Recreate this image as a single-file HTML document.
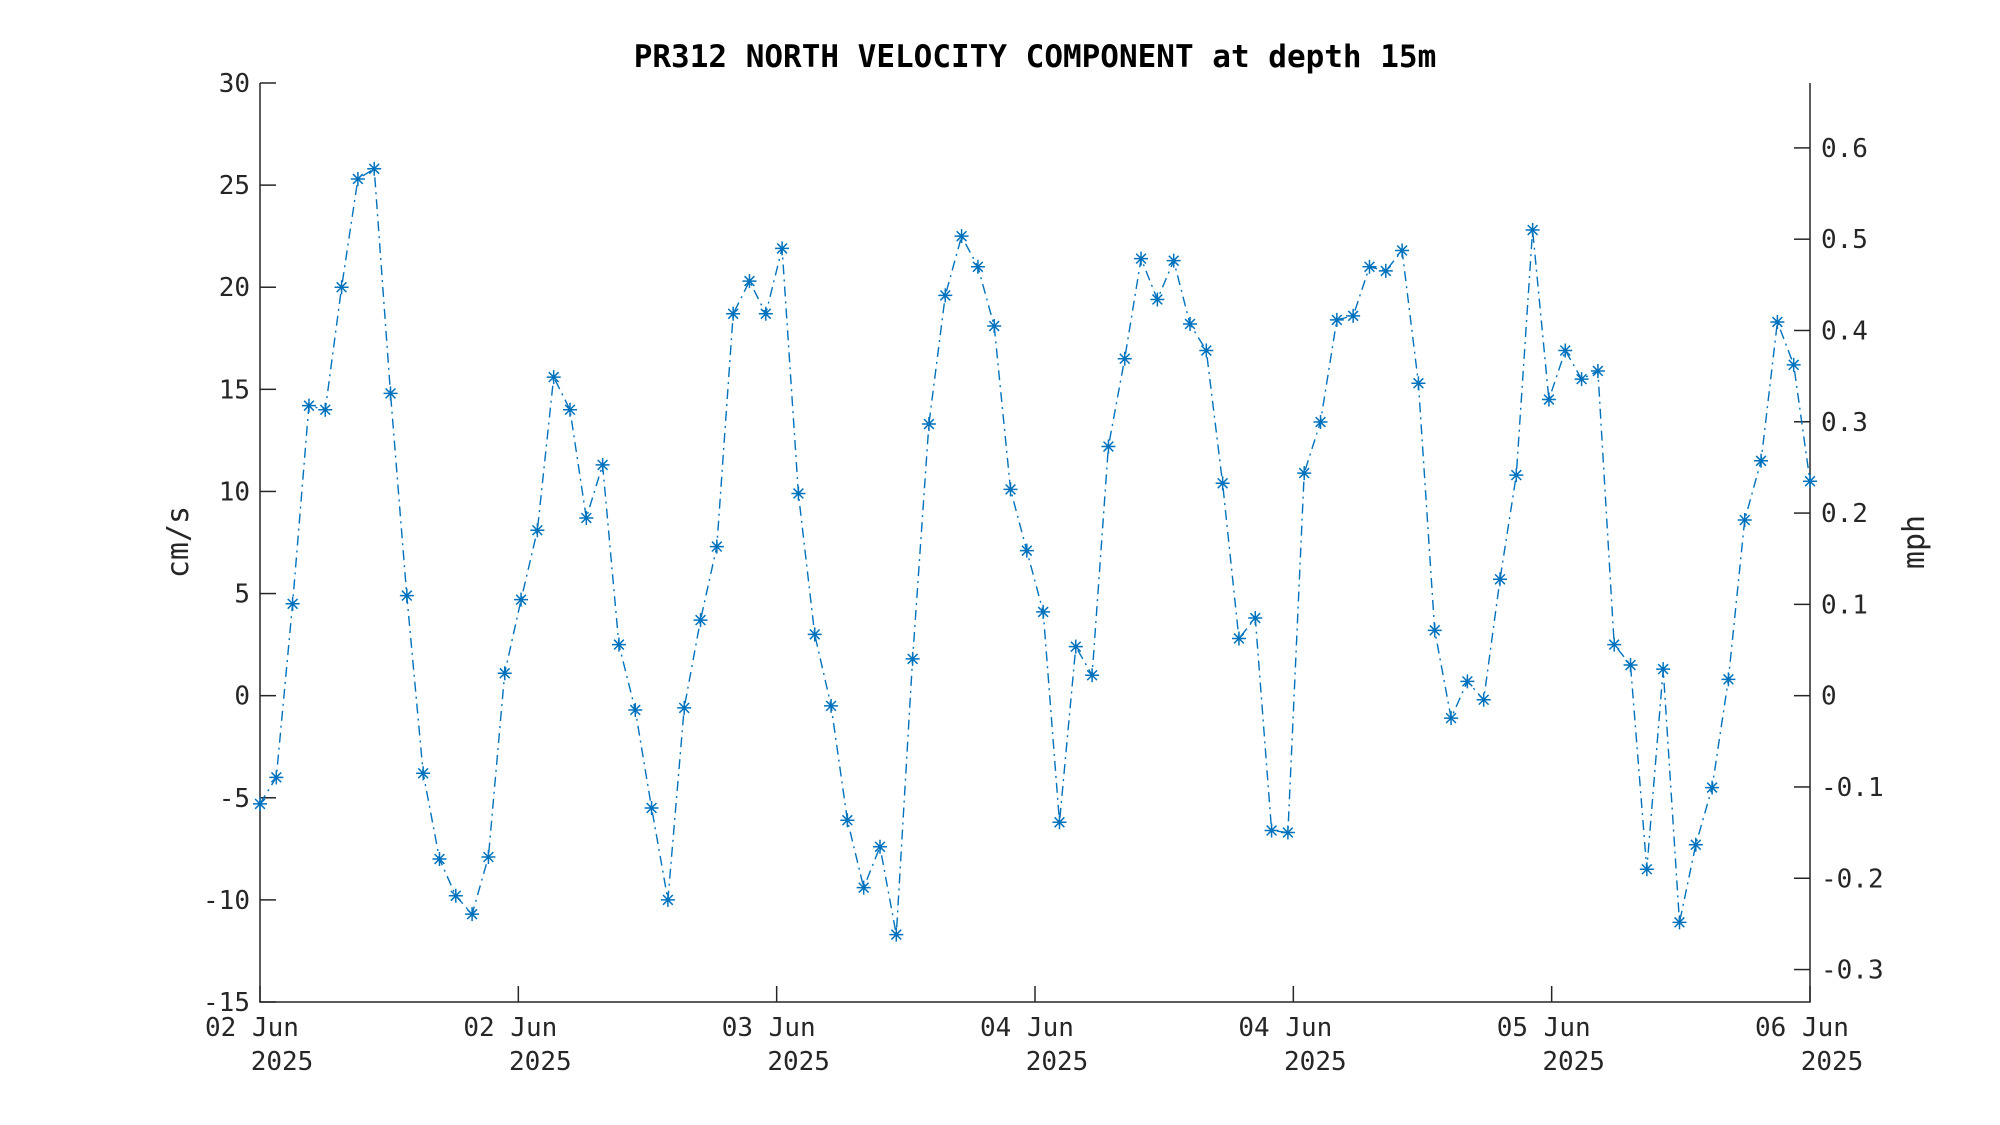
<!DOCTYPE html>
<html><head><meta charset="utf-8"><style>
html,body{margin:0;padding:0;background:#fff;}
svg{display:block;font-family:"DejaVu Sans Mono","Liberation Mono",monospace;}
</style></head><body>
<svg id="chart" width="2000" height="1125" viewBox="0 0 2000 1125" xmlns="http://www.w3.org/2000/svg">
<text x="1035" y="67" text-anchor="middle" font-size="31" font-weight="bold" fill="#000">PR312 NORTH VELOCITY COMPONENT at depth 15m</text>
<text transform="translate(188,542) rotate(-90)" text-anchor="middle" font-size="30" fill="#262626">cm/s</text>
<text transform="translate(1924,542) rotate(-90)" text-anchor="middle" font-size="30" fill="#262626">mph</text>
<g id="axes"></g>
<g id="series"></g>
</svg>
<script>
const values = [-5.3,-4.0,4.5,14.2,14.0,20.0,25.3,25.8,14.8,4.9,-3.8,-8.0,-9.8,-10.7,-7.9,1.1,4.7,8.1,15.6,14.0,8.7,11.3,2.5,-0.7,-5.5,-10.0,-0.6,3.7,7.3,18.7,20.3,18.7,21.9,9.9,3.0,-0.5,-6.1,-9.4,-7.4,-11.7,1.8,13.3,19.6,22.5,21.0,18.1,10.1,7.1,4.1,-6.2,2.4,1.0,12.2,16.5,21.4,19.4,21.3,18.2,16.9,10.4,2.8,3.8,-6.6,-6.7,10.9,13.4,18.4,18.6,21.0,20.8,21.8,15.3,3.2,-1.1,0.7,-0.2,5.7,10.8,22.8,14.5,16.9,15.5,15.9,2.5,1.5,-8.5,1.3,-11.1,-7.3,-4.5,0.8,8.6,11.5,18.3,16.2,10.5];
const yTicks = [-15,-10,-5,0,5,10,15,20,25,30];
const y2Ticks = [-0.3,-0.2,-0.1,0,0.1,0.2,0.3,0.4,0.5,0.6];
const xTickDays = ["02 Jun","02 Jun","03 Jun","04 Jun","04 Jun","05 Jun","06 Jun"];
const xTickYears = ["2025","2025","2025","2025","2025","2025","2025"];
const MPH = 0.0223694;

const L=260,R=1810,T=83,B=1002,yMin=-15,yMax=30;
const NS="http://www.w3.org/2000/svg";
const ys=v=>B-(v-yMin)/(yMax-yMin)*(B-T);
const xs=i=>L+i/(values.length-1)*(R-L);
const axes=document.getElementById('axes'), ser=document.getElementById('series');
function mk(tag,attrs,parent){const e=document.createElementNS(NS,tag);for(const k in attrs)e.setAttribute(k,attrs[k]);parent.appendChild(e);return e;}

let e;
e=mk('path',{d:`M${L},${T}V${B}H${R}V${T}`,fill:'none',stroke:'#262626','stroke-width':1.5},axes);



yTicks.forEach(v=>{
  const y=ys(v);
  e=mk('line',{x1:L,x2:L+16,y1:y,y2:y,stroke:'#262626','stroke-width':1.5},axes);
  
  
  e=mk('text',{x:250,y:y+9,'text-anchor':'end','font-size':26,fill:'#262626'},axes);
  
  
  e.textContent=String(v);
});
y2Ticks.forEach(v=>{
  const y=ys(v/MPH);
  e=mk('line',{x1:R-16,x2:R,y1:y,y2:y,stroke:'#262626','stroke-width':1.5},axes);
  
  
  e=mk('text',{x:1821,y:y+9,'text-anchor':'start','font-size':26,fill:'#262626'},axes);
  
  
  e.textContent=String(v);
});
xTickDays.forEach((d,i)=>{
  const x=L+i/(xTickDays.length-1)*(R-L);
  e=mk('line',{x1:x,x2:x,y1:B,y2:B-16,stroke:'#262626','stroke-width':1.5},axes);
  
  
  e=mk('text',{x:x-8,y:1036,'text-anchor':'middle','font-size':26,fill:'#262626'},axes);
  
  
  e.textContent=d;
  e=mk('text',{x:x+22,y:1070,'text-anchor':'middle','font-size':26,fill:'#262626'},axes);
  
  
  e.textContent=xTickYears[i];
});

const pts=values.map((v,i)=>`${xs(i).toFixed(1)},${ys(v).toFixed(1)}`).join(' ');
e=mk('polyline',{points:pts,fill:'none',stroke:'#0072BD','stroke-width':1.4,'stroke-dasharray':'10 5 2 5'},ser);


values.forEach((v,i)=>{
  const x=xs(i),y=ys(v),r=7;
  const d=`M${x-r},${y}H${x+r}M${x},${y-r}V${y+r}M${x-r*0.7},${y-r*0.7}L${x+r*0.7},${y+r*0.7}M${x-r*0.7},${y+r*0.7}L${x+r*0.7},${y-r*0.7}`;
  e=mk('path',{d:d,stroke:'#0072BD','stroke-width':1.5,fill:'none'},ser);
  
  
});
</script>
</body></html>
